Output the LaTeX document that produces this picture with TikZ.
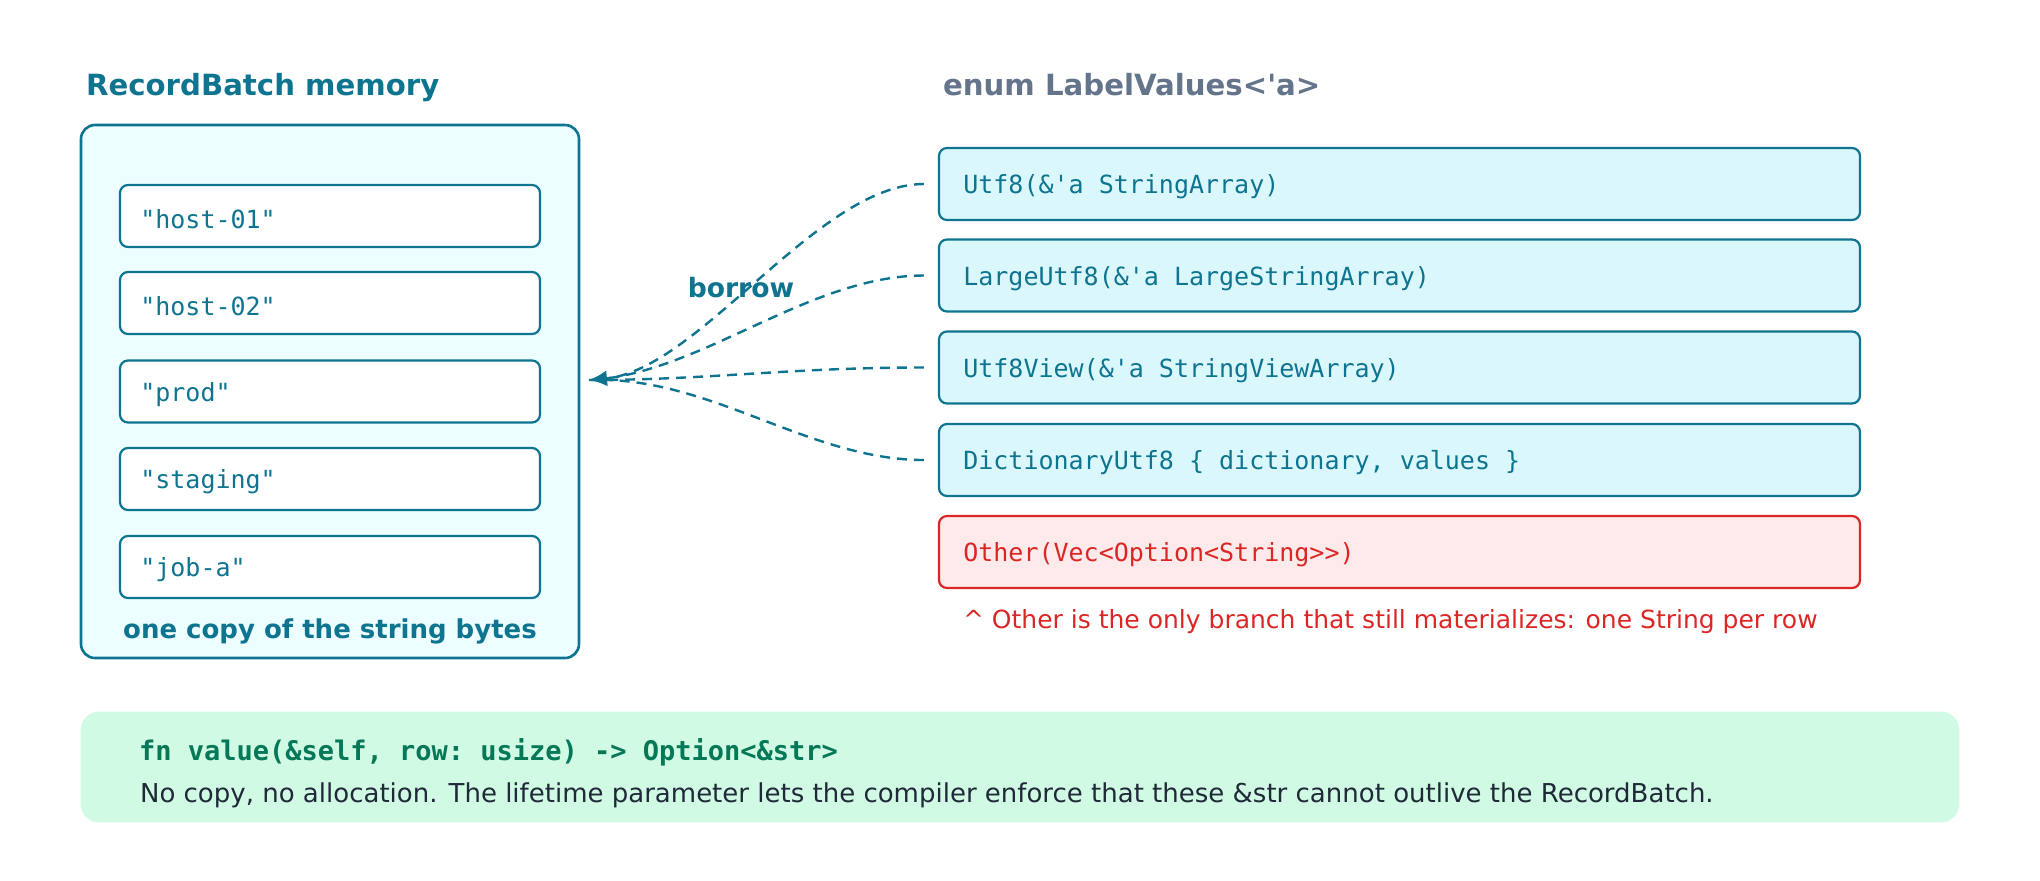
\documentclass[tikz,border=0pt]{standalone}
\usepackage{fontspec}
\setmainfont{DejaVu Sans}
\setmonofont{DejaVu Sans Mono}
\usetikzlibrary{arrows.meta}
\definecolor{teal}{HTML}{0E7490}
\definecolor{lfill}{HTML}{ECFEFF}
\definecolor{rfill}{HTML}{DAF8FC}
\definecolor{red}{HTML}{DC2626}
\definecolor{pink}{HTML}{FEEAEA}
\definecolor{gfill}{HTML}{D1FAE5}
\definecolor{gcode}{HTML}{047857}
\definecolor{body}{HTML}{1F2937}
\definecolor{slate}{HTML}{64748B}
\tikzset{
  title/.style={anchor=base west, font=\bfseries\fontsize{14.6}{17}\selectfont},
  strbox/.style={draw=teal, fill=white, line width=1.1pt, rounded corners=4pt, minimum width=210pt, minimum height=31pt},
  varbox/.style={draw=teal, fill=rfill, line width=1.1pt, rounded corners=4pt, minimum width=460.5pt, minimum height=36pt},
  code/.style={anchor=west, text=teal, inner sep=0pt, yshift=-1.5pt, font=\ttfamily\fontsize{12.5}{14}\selectfont},
  arr/.style={teal, dash pattern=on 5pt off 3.5pt, line width=1.2pt, shorten <=7pt},
}
\begin{document}
\begin{tikzpicture}[x=0.5pt,y=-0.5pt]
\useasboundingbox (0,0) rectangle (2040,880);
\node[title, text=teal] (t1) at (79,95) {RecordBatch memory};
\node[title, text=slate] (t2) at (936,95) {enum LabelValues<\textquotesingle a>};
\draw[teal, fill=lfill, line width=1.3pt, rounded corners=7pt] (81,125) rectangle (579,658);
\node[minimum width=249pt, minimum height=266.5pt, inner sep=0pt] (mem) at (330,391.5) {};
\node[strbox] (s1) at (330,216) {};
\node[strbox] (s2) at (330,303) {};
\node[strbox] (s3) at (330,391.5) {};
\node[strbox] (s4) at (330,479) {};
\node[strbox] (s5) at (330,567) {};
\node[code] at ([xshift=10.5pt]s1.west) {"host-01"};
\node[code] at ([xshift=10.5pt]s2.west) {"host-02"};
\node[code] at ([xshift=10.5pt]s3.west) {"prod"};
\node[code] at ([xshift=10.5pt]s4.west) {"staging"};
\node[code] at ([xshift=10.5pt]s5.west) {"job-a"};
\node[font=\bfseries\fontsize{13}{16}\selectfont, text=teal, anchor=base] (cap) at (330,638) {one copy of the string bytes};
\node[varbox] (u1) at (1399.5,184) {};
\node[varbox] (u2) at (1399.5,275.5) {};
\node[varbox] (u3) at (1399.5,367.5) {};
\node[varbox] (u4) at (1399.5,460) {};
\node[varbox, draw=red, fill=pink] (u5) at (1399.5,552) {};
\node[code] at ([xshift=12.5pt]u1.west) {Utf8(\&\textquotesingle a StringArray)};
\node[code] at ([xshift=12.5pt]u2.west) {LargeUtf8(\&\textquotesingle a LargeStringArray)};
\node[code] at ([xshift=12.5pt]u3.west) {Utf8View(\&\textquotesingle a StringViewArray)};
\node[code] at ([xshift=12.5pt]u4.west) {DictionaryUtf8 \{ dictionary, values \}};
\node[code, text=red] at ([xshift=12.5pt]u5.west) {Other(Vec<Option<String>{}>)};
\node[anchor=base west, text=red, font=\fontsize{12.5}{14}\selectfont] (note) at (956,628) {\^{} Other is the only branch that still materializes: one String per row};
\coordinate (tip) at (589,380);
\draw[arr, -{Latex[length=9pt,width=8pt]}] (u1.west) .. controls +(-120,0) and +(110,-10) .. (tip);
\draw[arr] (u2.west) .. controls +(-130,0) and +(110,-5) .. (tip);
\draw[arr] (u3.west) .. controls +(-150,0) and +(120,0) .. (tip);
\draw[arr] (u4.west) .. controls +(-130,0) and +(120,-5) .. (tip);
\node[font=\bfseries\fontsize{13.3}{16}\selectfont, text=teal] (bor) at (741,288) {borrow};
\draw[gfill, fill=gfill, rounded corners=9pt] (81,712) rectangle (1959,822);
\node[anchor=base west, text=gcode, font=\ttfamily\bfseries\fontsize{13.5}{16}\selectfont] (sig) at (132,760) {fn value(\&self, row: usize) -> Option<\&str>};
\node[anchor=base west, text=body, font=\fontsize{13}{16}\selectfont] (desc) at (133,802) {No copy, no allocation. The lifetime parameter lets the compiler enforce that these \&str cannot outlive the RecordBatch.};
\end{tikzpicture}
\end{document}
